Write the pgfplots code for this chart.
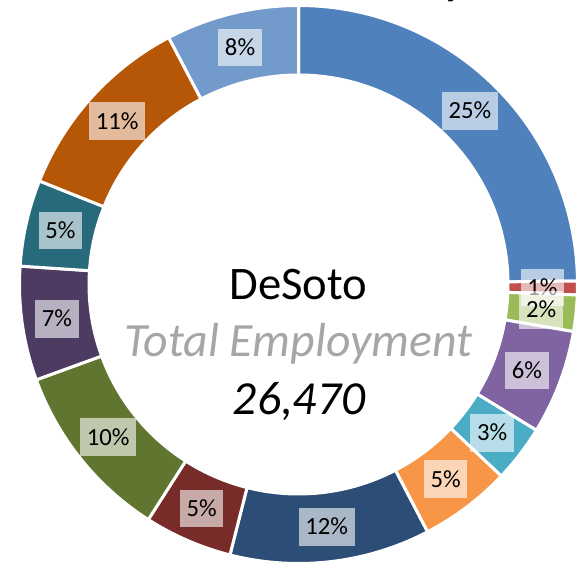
\documentclass[border=0pt]{standalone}
\usepackage{pgfplots}
\pgfplotsset{compat=1.18}
\usepackage{pgfplotstable}
\usepackage{fontspec}
\setmainfont{Carlito}

\definecolor{c1}{HTML}{4F81BD}
\definecolor{c2}{HTML}{C0504D}
\definecolor{c3}{HTML}{9BBB59}
\definecolor{c4}{HTML}{8064A2}
\definecolor{c5}{HTML}{4BACC6}
\definecolor{c6}{HTML}{F79646}
\definecolor{c7}{HTML}{2C4D75}
\definecolor{c8}{HTML}{772C2A}
\definecolor{c9}{HTML}{5F7530}
\definecolor{c10}{HTML}{4D3B62}
\definecolor{c11}{HTML}{276A7C}
\definecolor{c12}{HTML}{B65708}
\definecolor{c13}{HTML}{729ACA}
\definecolor{txtgray}{HTML}{A6A6A6}

% share of total employment (percent), label, colour
\pgfplotstableread{
value label color
24.8  25 c1
0.8   1  c2
2.1   2  c3
6.05  6  c4
3.3   3  c5
5.3   5  c6
11.6  12 c7
5.1   5  c8
10.4  10 c9
6.6   7  c10
5.0   5  c11
11.25 11 c12
7.7   8  c13
}\shares

\begin{document}
\begin{tikzpicture}
\useasboundingbox (0,0) rectangle (435.75pt,422.25pt);
\clip (0,0) rectangle (435.75pt,422.25pt);
\begin{axis}[at={(0,0)}, anchor=south west, x=0.75pt, y=0.75pt,
  xmin=0, xmax=581, ymin=0, ymax=563, hide axis, clip=false]
\pgfplotstablegetrowsof{\shares}
\pgfmathtruncatemacro{\N}{\pgfplotsretval-1}
\def\cx{298.5}\def\cy{278.5}
\def\Ro{279}\def\Ri{209.5}\def\Rl{244}
% segments
\def\cum{0}
\pgfplotsforeachungrouped \i in {0,...,\N}{%
  \pgfplotstablegetelem{\i}{value}\of{\shares}\let\v\pgfplotsretval
  \pgfplotstablegetelem{\i}{color}\of{\shares}\let\col\pgfplotsretval
  \pgfmathsetmacro{\aS}{90-3.6*\cum}%
  \pgfmathsetmacro{\aE}{90-3.6*(\cum+\v)}%
  \pgfmathsetmacro{\cum}{\cum+\v}%
  \pgfmathsetmacro{\xa}{\cx+\Ro*cos(\aS)}%
  \pgfmathsetmacro{\ya}{\cy+\Ro*sin(\aS)}%
  \pgfmathsetmacro{\xb}{\cx+\Ri*cos(\aE)}%
  \pgfmathsetmacro{\yb}{\cy+\Ri*sin(\aE)}%
  \pgfmathsetmacro{\ro}{\Ro*0.75}%
  \pgfmathsetmacro{\ri}{\Ri*0.75}%
  \edef\tmp{\noexpand\fill[\col, draw=white, line width=2.25pt]
    (axis cs:\xa,\ya) arc[start angle=\aS, end angle=\aE, radius=\ro pt]
    -- (axis cs:\xb,\yb) arc[start angle=\aE, end angle=\aS, radius=\ri pt] -- cycle;}%
  \tmp
}
% labels
\def\cum{0}
\pgfplotsforeachungrouped \i in {0,...,\N}{%
  \pgfplotstablegetelem{\i}{value}\of{\shares}\let\v\pgfplotsretval
  \pgfplotstablegetelem{\i}{label}\of{\shares}\let\lab\pgfplotsretval
  \pgfmathsetmacro{\am}{90-3.6*(\cum+0.5*\v)}%
  \pgfmathsetmacro{\cum}{\cum+\v}%
  \pgfmathsetmacro{\lx}{\cx+\Rl*cos(\am)}%
  \pgfmathsetmacro{\ly}{\cy+\Rl*sin(\am)}%
  \edef\tmp{\noexpand\node[fill=white, fill opacity=0.6, text opacity=1,
    inner xsep=5pt, inner ysep=8.1pt, text height=12pt, text depth=0pt,
    font=\noexpand\fontsize{18.5pt}{22pt}\noexpand\selectfont]
    at (axis cs:\lx,\ly) {\lab\noexpand\%};}%
  \tmp
}
\node[anchor=base, font=\fontsize{35pt}{40pt}\selectfont] at (axis cs:298.5,263) {DeSoto};
\node[anchor=base, text=txtgray, font=\fontsize{35.8pt}{40pt}\selectfont\itshape] at (axis cs:298.5,206.3) {Total Employment};
\node[anchor=base, font=\fontsize{35.6pt}{40pt}\selectfont\itshape] at (axis cs:299,148) {26,470};
\node[anchor=base west, font=\fontsize{30pt}{36pt}\selectfont\bfseries] at (axis cs:440,567) {y};
\end{axis}
\end{tikzpicture}
\end{document}
